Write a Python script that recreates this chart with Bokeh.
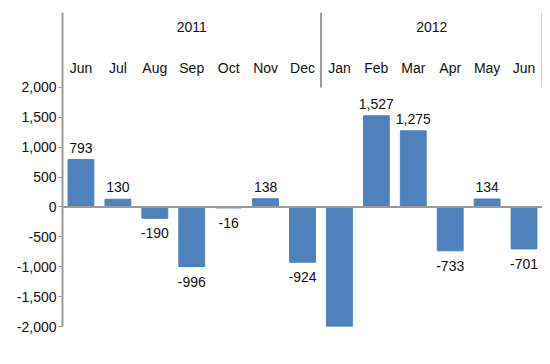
from bokeh.plotting import figure
from bokeh.models import ColumnDataSource, FixedTicker, NumeralTickFormatter, Span
from bokeh.embed import file_html
from bokeh.resources import INLINE
from bokeh.core.properties import value

months = ["Jun", "Jul", "Aug", "Sep", "Oct", "Nov", "Dec",
          "Jan", "Feb", "Mar", "Apr", "May", "Jun"]
years = ["2011", "2012"]
year_spans = [(0, 6), (7, 12)]
values = [793, 130, -190, -996, -16, 138, -924, -2000, 1527, 1275, -733, 134, -701]
labels = ["793", "130", "-190", "-996", "-16", "138", "-924", "", "1,527", "1,275", "-733", "134", "-701"]
y_ticks = [-2000, -1500, -1000, -500, 0, 500, 1000, 1500, 2000]

FONT = "Liberation Sans"
FS = "14px"
BAR = "#4F81BD"
GRAY = "#9a9a9a"
TXT = "#111111"

xs = list(range(len(months)))
Y_TOP = 3255

p = figure(width=542, height=356, output_backend="svg", toolbar_location=None,
           x_range=(-0.5, len(months) - 0.5), y_range=(-2000, Y_TOP),
           min_border_left=62, min_border_right=0, min_border_top=12, min_border_bottom=30)
p.outline_line_color = None
p.xgrid.visible = False
p.ygrid.visible = False
p.xaxis.visible = False
p.background_fill_color = "white"
p.border_fill_color = "white"

ax = p.yaxis[0]
ax.ticker = FixedTicker(ticks=y_ticks, minor_ticks=[])
ax.formatter = NumeralTickFormatter(format="0,0")
ax.axis_line_color = GRAY
ax.axis_line_width = 2
ax.major_tick_line_color = GRAY
ax.major_tick_line_width = 1
ax.major_tick_out = 4
ax.major_tick_in = 0
ax.minor_tick_line_color = None
ax.major_label_standoff = 2
ax.major_label_text_font = FONT
ax.major_label_text_font_size = FS
ax.major_label_text_color = TXT

src = ColumnDataSource(dict(x=xs, top=values, lab=labels, month=months))
p.vbar(x="x", top="top", bottom=0, width=0.7, source=src,
       fill_color=BAR, line_color=BAR)

p.add_layout(Span(location=0, dimension="width", line_color=GRAY, line_width=2))

pos = ColumnDataSource(dict(x=[x for x, v in zip(xs, values) if v >= 0],
                            y=[v for v in values if v >= 0],
                            t=[l for l, v in zip(labels, values) if v >= 0]))
neg = ColumnDataSource(dict(x=[x for x, v in zip(xs, values) if v < 0],
                            y=[v for v in values if v < 0],
                            t=[l for l, v in zip(labels, values) if v < 0]))
p.text(x="x", y="y", text="t", source=pos, y_offset=-12, text_align="center",
       text_baseline="middle", text_font=value(FONT), text_font_size=FS, text_color=TXT)
p.text(x="x", y="y", text="t", source=neg, y_offset=15, text_align="center",
       text_baseline="middle", text_font=value(FONT), text_font_size=FS, text_color=TXT)

# header: month labels and year labels
p.text(x="x", y=2318, text="month", source=src, text_align="center",
       text_baseline="middle", text_font=value(FONT), text_font_size=FS, text_color=TXT)
yr_x = [(a + b) / 2 for a, b in year_spans]
p.text(x=yr_x, y=[3004] * len(years), text=years, text_align="center",
       text_baseline="middle", text_font=value(FONT), text_font_size=FS, text_color=TXT)

sep_x = [b + 0.5 for a, b in year_spans]
p.segment(x0=sep_x, y0=[2000] * len(sep_x), x1=sep_x, y1=[Y_TOP] * len(sep_x),
          line_color=GRAY, line_width=2)

open("out.html", "w").write(file_html(p, INLINE))
